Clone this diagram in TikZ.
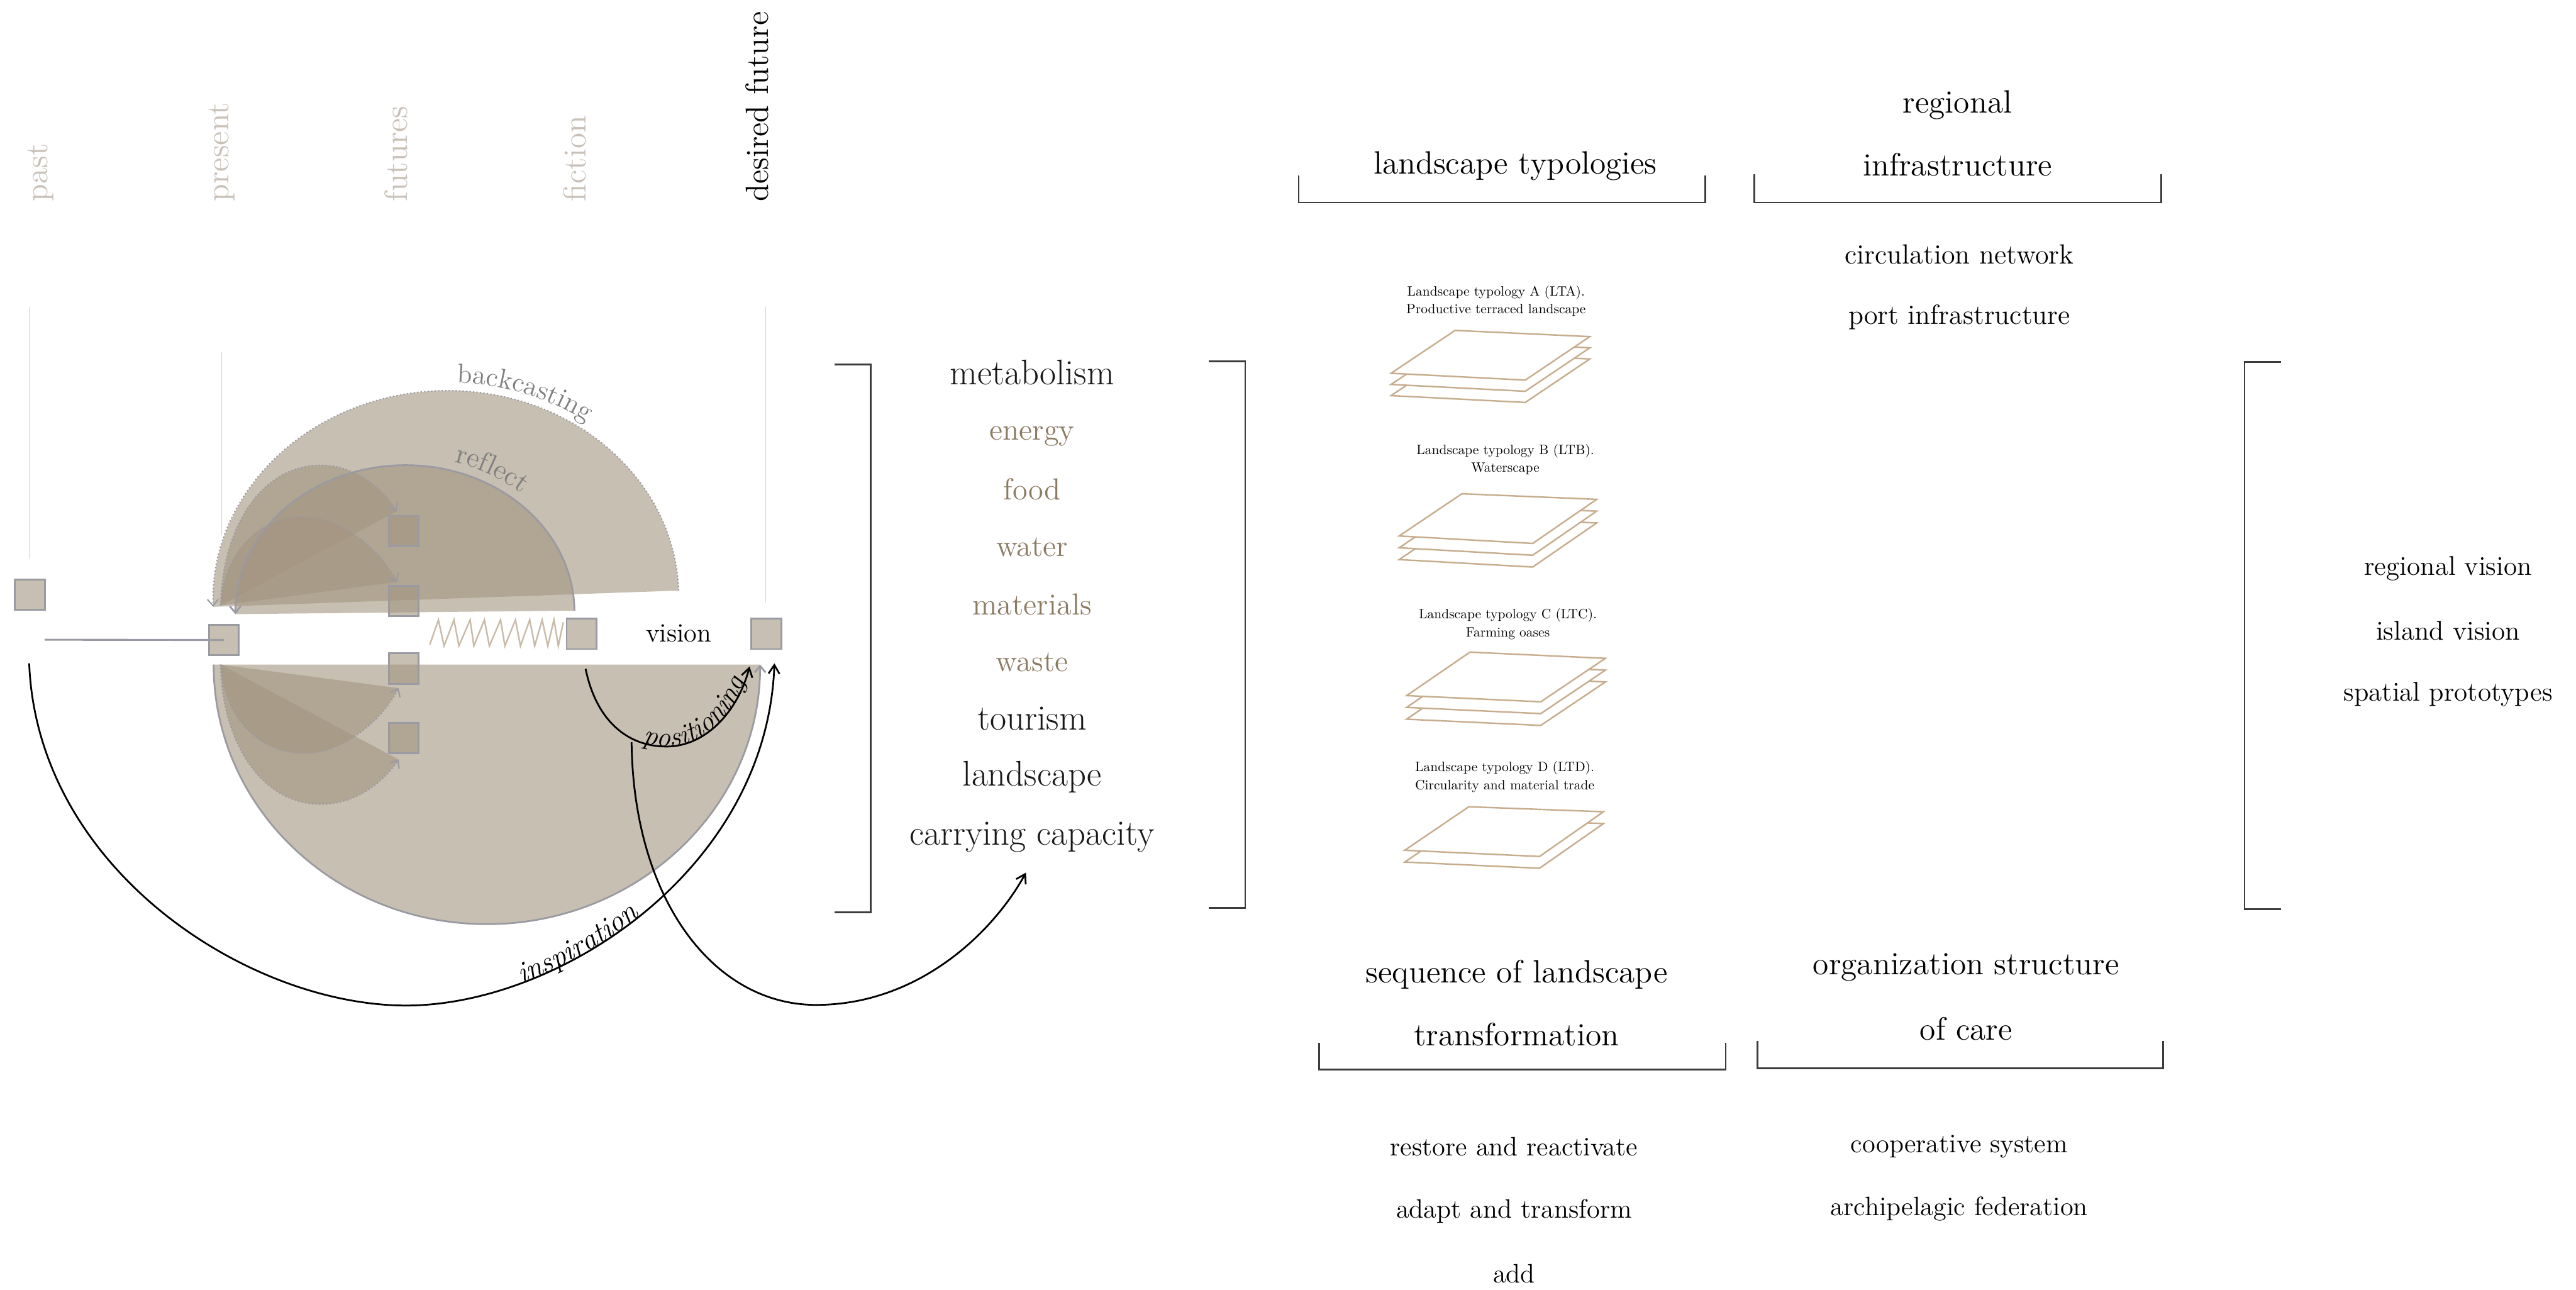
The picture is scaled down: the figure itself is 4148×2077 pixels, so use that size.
\documentclass[tikz,border=0pt]{standalone}
\usepackage{fontspec}
\usepackage{graphicx}
\usetikzlibrary{arrows.meta,decorations.text}
\definecolor{lblc}{HTML}{C9C1B8}
\definecolor{brownt}{HTML}{8C7B63}
\definecolor{tanl}{HTML}{C7AD8E}
\definecolor{fillc}{HTML}{A39580}
\definecolor{edgec}{HTML}{9A9AA2}
\definecolor{zigc}{HTML}{C9BBA8}
\definecolor{thinl}{HTML}{D4D4D4}
\definecolor{brkc}{HTML}{3C3C3C}
\definecolor{labg}{HTML}{7F7F7F}
\newcommand\fVert{\fontsize{14.7pt}{17pt}\selectfont}
\newcommand\fHead{\fontsize{14.8pt}{17pt}\selectfont}
\newcommand\fList{\fontsize{12.2pt}{14pt}\selectfont}
\newcommand\fListB{\fontsize{12.7pt}{14pt}\selectfont}
\newcommand\fRight{\fontsize{12.4pt}{14pt}\selectfont}
\newcommand\fMet{\fontsize{16.3pt}{19pt}\selectfont}
\newcommand\fMetB{\fontsize{13.9pt}{16pt}\selectfont}
\newcommand\fVis{\fontsize{12.1pt}{14pt}\selectfont}
\newcommand\fBack{\fontsize{12.6pt}{15pt}\selectfont}
\newcommand\fRefl{\fontsize{13pt}{15pt}\selectfont}
\newcommand\fInsp{\fontsize{13.5pt}{16pt}\selectfont\itshape}
\newcommand\fPos{\fontsize{13pt}{15pt}\selectfont\itshape}
\newcommand\typtext[2]{\scalebox{0.62}{\fontsize{10pt}{13.3pt}\selectfont\begin{tabular}{@{}c@{}}#1\\#2\end{tabular}}}
\begin{document}
\begin{tikzpicture}[x=0.01cm,y=0.01cm,
  sq/.style={draw=edgec, line width=0.8pt, fill=fillc, fill opacity=0.6, minimum width=0.48cm, minimum height=0.49cm, inner sep=0pt, outer sep=0pt},
  tonefill/.style={fill=fillc, fill opacity=0.6},
  arcdot/.style={draw=edgec, line width=0.6pt, densely dotted, -{Straight Barb[length=3pt,width=5pt]}},
  arcsol/.style={draw=edgec, line width=0.8pt, -{Straight Barb[length=3pt,width=5pt]}},
  blackarrow/.style={draw=black, line width=0.8pt, -{Straight Barb[length=4pt,width=5pt]}},
  brkline/.style={draw=brkc, line width=0.7pt},
  plate/.style={draw=tanl, line width=0.7pt, fill=white, line join=miter},
  thinline/.style={draw=thinl, line width=0.4pt},
  vlab/.style={rotate=90, anchor=west, inner sep=0pt, font=\fVert},
  hd/.style={font=\fHead, inner sep=0pt},
  listtxt/.style={font=\fList, inner sep=0pt},
  listtxtb/.style={font=\fListB, inner sep=0pt},
  righttxt/.style={font=\fRight, inner sep=0pt},
  met/.style={font=\fMet, inner sep=0pt, text=black!90},
  metb/.style={font=\fMetB, inner sep=0pt, text=brownt},
  typ/.style={inner sep=0pt}
]
\fill[white] (0,0) rectangle (4148,-2077);
\useasboundingbox (0,0) rectangle (4148,-2077);

% ---------- vertical labels ----------
\node[vlab, text=lblc] (past) at (66,-325) {past};
\node[vlab, text=lblc] (present) at (357,-325) {present};
\node[vlab, text=lblc] (futures) at (638,-325) {futures};
\node[vlab, text=lblc] (fiction) at (925,-325) {fiction};
\node[vlab, text=black] (desired) at (1219,-325) {desired future};

\draw[thinline] (47,-494) -- (47,-900);
\draw[thinline] (357,-567) -- (357,-862);
\draw[thinline] (1233,-494) -- (1233,-970);

% ---------- upper shapes ----------
\fill[tonefill, rotate around={2:(718,-964)}] (343,-964) arc[start angle=180, end angle=0, x radius=375, y radius=335] -- cycle;
\fill[tonefill, rotate around={0.6:(652,-986)}] (379,-986) arc[start angle=180, end angle=0, x radius=273, y radius=237] -- cycle;
\fill[tonefill] (355,-975) .. controls (358,-850) and (420,-749) .. (517,-749) .. controls (570,-749) and (615,-785) .. (639,-823) -- cycle;
\fill[tonefill] (355,-975) .. controls (362,-885) and (420,-832) .. (488,-832) .. controls (545,-832) and (610,-880) .. (639,-937) -- cycle;

\draw[arcdot, rotate around={2:(718,-964)}] (1093,-964) arc[start angle=0, end angle=180, x radius=375, y radius=335];
\draw[arcsol, rotate around={0.6:(652,-986)}] (925,-986) arc[start angle=0, end angle=180, x radius=273, y radius=237];
\draw[arcdot] (355,-975) .. controls (358,-850) and (420,-749) .. (517,-749) .. controls (570,-749) and (615,-785) .. (639,-823);
\draw[arcdot] (355,-975) .. controls (362,-885) and (420,-832) .. (488,-832) .. controls (545,-832) and (610,-880) .. (639,-937);

% ---------- lower shapes ----------
\fill[tonefill] (344,-1070) arc[start angle=180, end angle=360, x radius=440, y radius=418] -- cycle;
\fill[tonefill] (355,-1070) .. controls (362,-1160) and (420,-1213) .. (491,-1213) .. controls (548,-1213) and (612,-1165) .. (642,-1108) -- cycle;
\fill[tonefill] (355,-1070) .. controls (358,-1195) and (420,-1295) .. (517,-1295) .. controls (572,-1295) and (617,-1260) .. (642,-1223) -- cycle;

\draw[arcsol] (344,-1070) arc[start angle=180, end angle=360, x radius=440, y radius=418];
\draw[arcdot] (355,-1070) .. controls (362,-1160) and (420,-1213) .. (491,-1213) .. controls (548,-1213) and (612,-1165) .. (642,-1108);
\draw[arcdot] (355,-1070) .. controls (358,-1195) and (420,-1295) .. (517,-1295) .. controls (572,-1295) and (617,-1260) .. (642,-1223);

% ---------- curved labels ----------
\path[rotate around={2:(718,-964)}, decorate, decoration={text along path, text color=labg, text={|\fBack|backcasting}, text align=center}]
  (731.5,-616) arc[start angle=88, end angle=50, x radius=388, y radius=348];
\path[rotate around={0.6:(652,-986)}, decorate, decoration={text along path, text color=labg, text={|\fRefl|reflect}, text align=center}]
  (721.7,-741.5) arc[start angle=76, end angle=46, x radius=288, y radius=252];

% ---------- squares ----------
\node[sq] (pastsq) at (48,-957.5) {};
\node[sq] (presq) at (360.5,-1030.5) {};
\node[sq] (fut1) at (650,-855) {};
\node[sq] (fut2) at (650,-967.5) {};
\node[sq] (fut3) at (650,-1076.5) {};
\node[sq] (fut4) at (650,-1188.5) {};
\node[sq] (ficsq) at (936.5,-1020.5) {};
\node[sq] (desq) at (1234,-1020.5) {};
\node[font=\fVis, inner sep=0pt] (vision) at (1093,-1020) {vision};

\coordinate (pastline) at (72,-1030);
\draw[draw=edgec, line width=0.9pt] (pastline) -- (presq.center);

% zigzag spring
\draw[draw=zigc, line width=0.7pt, line join=miter]
 (692,-1038) -- (706,-998) -- (715,-1040) -- (731,-998) -- (739,-1040) -- (757,-998) -- (763,-1040) -- (780,-998) -- (788,-1040) -- (806,-998) -- (813,-1040) -- (830,-998) -- (838,-1040) -- (853,-998) -- (861,-1040) -- (873,-998) -- (882,-1040) -- (892,-998) -- (899,-1040) -- (907,-1002);

% ---------- black arrows ----------
\coordinate (inspstart) at (47,-1068);
\coordinate (insptip) at (1247,-1068);
\draw[blackarrow] (inspstart) .. controls (60,-1400) and (400,-1619) .. (654,-1619) .. controls (900,-1619) and (1235,-1400) .. (insptip);
\path[decorate, decoration={text along path, text={|\fInsp|inspiration}, text align={left indent=54pt}}]
  (654,-1619) .. controls (900,-1619) and (1235,-1400) .. (1247,-1068);

\coordinate (posstart) at (943,-1077);
\coordinate (postip) at (1207,-1073);
\draw[blackarrow] (posstart) .. controls (960,-1160) and (1010,-1202) .. (1073,-1202) .. controls (1140,-1202) and (1190,-1140) .. (postip);
\path[decorate, decoration={text along path, text={|\fPos|positioning}, text align={left indent=45pt}}]
  (943,-1077) .. controls (960,-1160) and (1010,-1202) .. (1073,-1202) .. controls (1140,-1202) and (1190,-1140) .. (1207,-1073);

\coordinate (capstart) at (1017,-1195);
\coordinate (captip) at (1652,-1405);
\draw[blackarrow] (capstart) .. controls (1020,-1450) and (1150,-1618) .. (1314,-1618) .. controls (1480,-1618) and (1600,-1500) .. (captip);

% ---------- metabolism column ----------
\draw[brkline] (1344,-587) -- (1402,-587) -- (1402,-1469) -- (1344,-1469);
\draw[brkline] (1946,-582) -- (2005,-582) -- (2005,-1462) -- (1946,-1462);
\node[met] (metab) at (1662,-600) {metabolism};
\node[metb] (energy) at (1662,-702) {energy};
\node[metb] (food) at (1662,-788) {food};
\node[metb] (water) at (1662,-881) {water};
\node[metb] (materials) at (1662,-973) {materials};
\node[metb] (waste) at (1662,-1066) {waste};
\node[met] (tourism) at (1662,-1157) {tourism};
\node[met] (landsc) at (1662,-1251) {landscape};
\node[met] (carry) at (1662,-1348) {carrying capacity};

% ---------- landscape typologies ----------
\node[hd] (lt) at (2440,-267) {landscape typologies};
\draw[brkline] (2091,-283) -- (2091,-326) -- (2746,-326) -- (2746,-283);
\node[hd] (regional) at (3152,-169) {regional};
\node[hd] (infra) at (3152,-265) {infrastructure};
\draw[brkline] (2825,-281) -- (2825,-326) -- (3480,-326) -- (3480,-281);
\node[listtxtb] (circ) at (3155,-410) {circulation network};
\node[listtxtb] (port) at (3155,-511) {port infrastructure};

\node[typ] (ltA) at (2409,-485) {\typtext{Landscape typology A (LTA).}{Productive terraced landscape}};
\node[typ] (ltB) at (2424,-740) {\typtext{Landscape typology B (LTB).}{Waterscape}};
\node[typ] (ltC) at (2428,-1005) {\typtext{Landscape typology C (LTC).}{Farming oases}};
\node[typ] (ltD) at (2423,-1251) {\typtext{Landscape typology D (LTD).}{Circularity and material trade}};

\foreach \k in {2,1,0} {
  \filldraw[plate, shift={(0,-18*\k)}] (2240,-601) -- (2343,-532) -- (2560,-542) -- (2456,-612) -- cycle;
}
\foreach \k in {2,1,0} {
  \filldraw[plate, shift={(0,-19*\k)}] (2253,-863) -- (2354,-795) -- (2571,-804) -- (2468,-875) -- cycle;
}
\foreach \k in {2,1,0} {
  \filldraw[plate, shift={(0,-19*\k)}] (2265,-1120) -- (2367,-1050) -- (2585,-1060) -- (2481,-1130) -- cycle;
}
\foreach \k in {1,0} {
  \filldraw[plate, shift={(0,-19*\k)}] (2262,-1369) -- (2365,-1299) -- (2582,-1307) -- (2479,-1379) -- cycle;
}

% ---------- bottom headings ----------
\node[hd] (seq1) at (2442,-1569) {sequence of landscape};
\node[hd] (seq2) at (2442,-1666) {transformation};
\draw[brkline] (2124,-1679) -- (2124,-1722) -- (2779,-1722) -- (2779,-1679);
\node[hd] (org1) at (3166,-1558) {organization structure};
\node[hd] (org2) at (3166,-1656) {of care};
\draw[brkline] (2830,-1676) -- (2830,-1720) -- (3483,-1720) -- (3483,-1676);

\node[listtxt] (restore) at (2438,-1846) {restore and reactivate};
\node[listtxt] (adapt) at (2438,-1950) {adapt and transform};
\node[listtxt] (add) at (2438,-2051) {add};
\node[listtxt] (coop) at (3155,-1846) {cooperative system};
\node[listtxt] (archi) at (3155,-1946) {archipelagic federation};

% ---------- right column ----------
\draw[brkline] (3673,-583) -- (3614,-583) -- (3614,-1464) -- (3673,-1464);
\node[righttxt] (regvis) at (3942,-915) {regional vision};
\node[righttxt] (islvis) at (3942,-1016) {island vision};
\node[righttxt] (spat) at (3942,-1118) {spatial prototypes};
\end{tikzpicture}
\end{document}
